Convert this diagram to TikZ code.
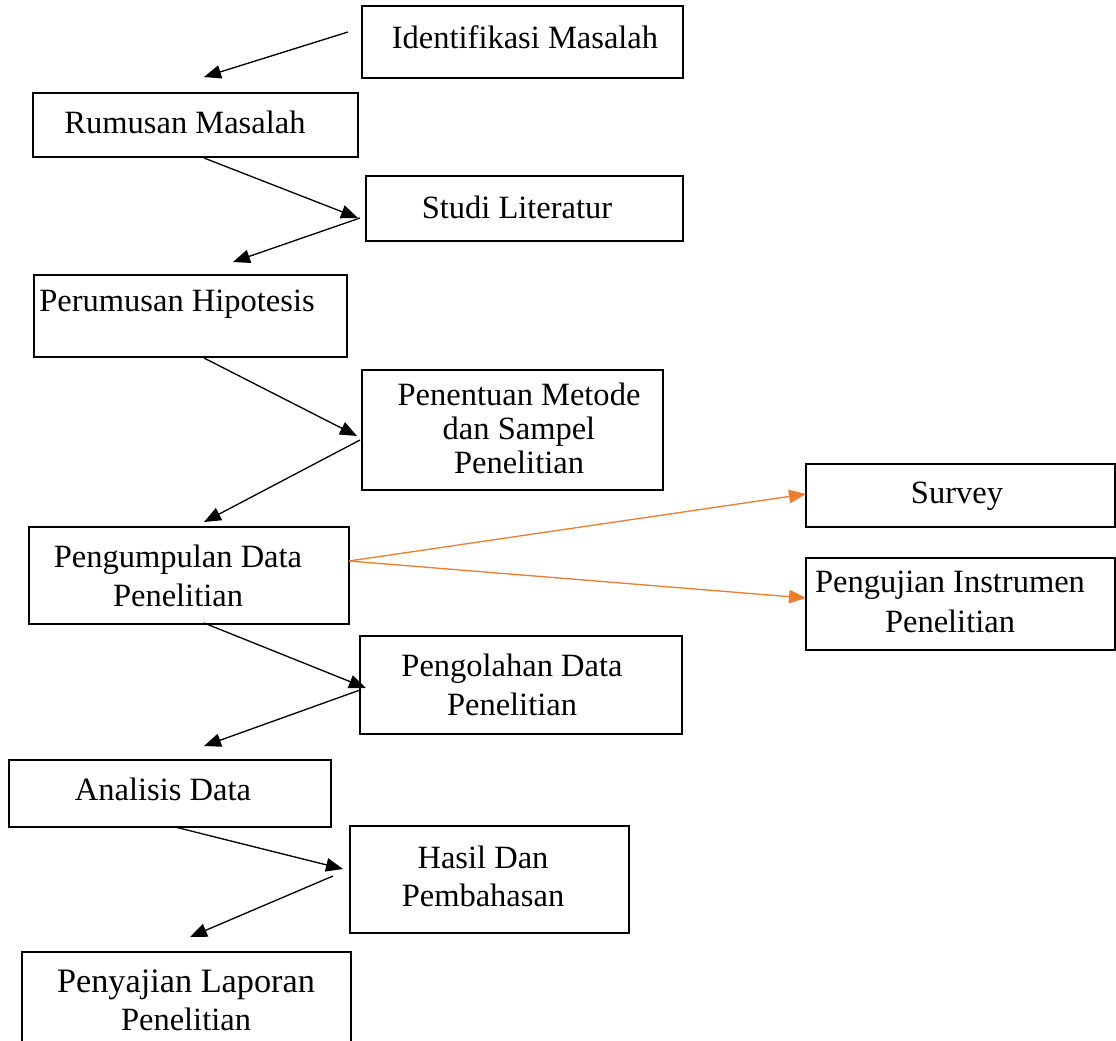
\documentclass[tikz,border=0pt]{standalone}
\usepackage{fontspec}
\setmainfont{Liberation Serif}
\usetikzlibrary{positioning, fit, arrows.meta}
\definecolor{FlowOrange}{HTML}{ED7D31}
\newcommand{\flowstage}[8]{%
    \coordinate (#1-nw) at (#2, #3);
    \coordinate (#1-se) at (#4, #5);
    \node[stagebox, fit=(#1-nw)(#1-se)] (#1) {};
    \node[stagetext] (#1-t) at (#6, #7) {#8};
}

\begin{document}
\begin{tikzpicture}[
    x=0.02cm, y=-0.02cm,
    stagebox/.style={draw=black, line width=0.75pt, inner sep=0pt},
    stagetext/.style={font=\fontsize{18.5}{21.6}\selectfont, align=center,
                      inner sep=0pt},
    flowarrow/.style={-{Triangle[length=0.34cm, width=0.27cm]}, line width=0.75pt},
    sidearrow/.style={flowarrow, draw=FlowOrange, fill=FlowOrange},
]
\useasboundingbox (0, 0) rectangle (1116, 1041);

% --- Stages (corners in px, then text centre) ---
\flowstage{identifikasi}{362}{6}{683}{78}{525}{37}{Identifikasi Masalah}
\flowstage{rumusan}{33}{93}{358}{157}{185}{122}{Rumusan Masalah}
\flowstage{studi}{366}{176}{683}{241}{517}{207}{Studi Literatur}
\flowstage{hipotesis}{34}{275}{347}{357}{177}{304}{Perumusan Hipotesis}
\flowstage{metode}{362}{370}{663}{490}{519}{428}%
    {Penentuan Metode\\[-2.3pt]dan Sampel\\[-2.3pt]Penelitian}
\flowstage{survey}{806}{464}{1115}{527}{957}{496}{Survey}
\flowstage{pengumpulan}{29}{527}{349}{624}{178}{576}{Pengumpulan Data\\[1pt]Penelitian}
\flowstage{instrumen}{806}{558}{1115}{650}{950}{602}{Pengujian Instrumen\\[1pt]Penelitian}
\flowstage{pengolahan}{360}{636}{682}{734}{512}{685}{Pengolahan Data\\[1pt]Penelitian}
\flowstage{analisis}{9}{760}{331}{827}{163}{789}{Analisis Data}
\flowstage{hasil}{350}{826}{629}{933}{483}{876}{Hasil Dan\\Pembahasan}
\flowstage{laporan}{22}{952}{351}{1060}{186}{1000}%
    {\fontsize{19.5}{22}\selectfont Penyajian Laporan\\Penelitian}

% --- Free arrow ends ---
\coordinate (a1s) at (348, 32);   \coordinate (a1e) at (204, 77);
\coordinate (a2s) at (204, 158);  \coordinate (a2e) at (358, 218);
\coordinate (a3s) at (360, 218);  \coordinate (a3e) at (233, 262);
\coordinate (a4s) at (204, 358);  \coordinate (a4e) at (357, 436);
\coordinate (a5s) at (360, 440);  \coordinate (a5e) at (204, 522);
\coordinate (b0s) at (349, 561);
\coordinate (b1e) at (806, 494);  \coordinate (b2e) at (806, 598);
\coordinate (a6s) at (204, 623);  \coordinate (a6e) at (366, 688);
\coordinate (a7s) at (360, 690);  \coordinate (a7e) at (204, 746);
\coordinate (a8s) at (175, 827);  \coordinate (a8e) at (343, 869);
\coordinate (a9s) at (333, 876);  \coordinate (a9e) at (190, 937);

% --- Zig-zag flow ---
\foreach \a in {a1, a2, a3, a4, a5, a6, a7, a8, a9}
    \draw[flowarrow] (\a s) -- (\a e);

% --- Orange branches to Survey / Pengujian ---
\draw[sidearrow] (b0s) -- (b1e);
\draw[sidearrow] (b0s) -- (b2e);

\end{tikzpicture}
\end{document}
